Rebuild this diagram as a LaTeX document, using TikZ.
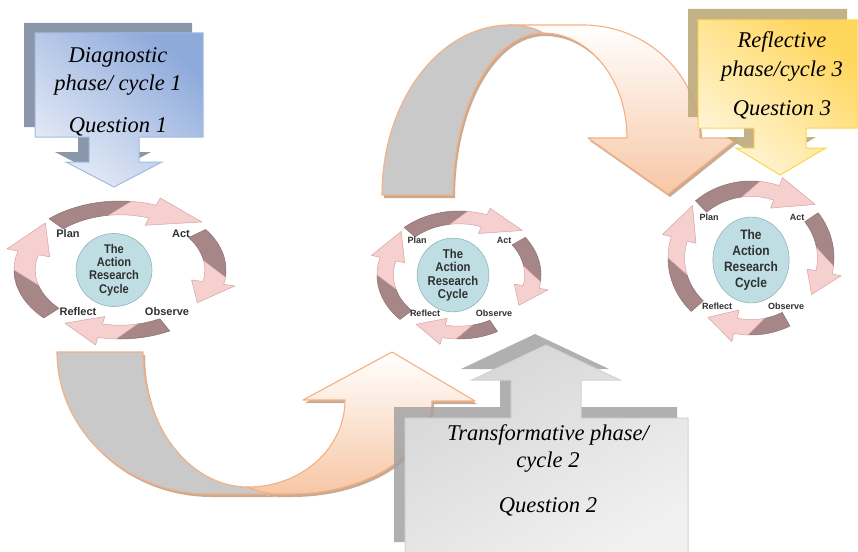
\documentclass[tikz,border=0pt]{standalone}
\usepackage{fontspec}
\setmainfont{Liberation Serif}
\newfontfamily\cycfont{Liberation Sans}
\newfontfamily\cycnarrow[FakeStretch=0.88]{Liberation Sans}
\usetikzlibrary{shapes.geometric}

% cycle diagram colours
\definecolor{ardark}{HTML}{A68686}
\definecolor{ardarkline}{HTML}{8E7070}
\definecolor{arpink}{HTML}{F6CFCF}
\definecolor{arpinkline}{HTML}{D6A4A4}
\definecolor{cycfill}{HTML}{BEDEE3}
\definecolor{cycline}{HTML}{93B4B9}
\definecolor{cyctext}{HTML}{303030}
% u-turn arrows
\definecolor{uturnline}{HTML}{F4B183}
\definecolor{uturnback}{HTML}{C9C9C9}
\definecolor{uturnpeach}{HTML}{F7C7A6}
\definecolor{uturnshadow}{HTML}{C9AB94}
% callouts
\definecolor{bluelight}{HTML}{E6ECF7}
\definecolor{bluemid}{HTML}{C9D6EE}
\definecolor{bluedark}{HTML}{8EAADB}
\definecolor{blueline}{HTML}{A4B9E2}
\definecolor{blueshadow}{HTML}{8A96AA}
\definecolor{yellight}{HTML}{FFF6D9}
\definecolor{yelmid}{HTML}{FFEBA8}
\definecolor{yeldark}{HTML}{FFD65C}
\definecolor{yelline}{HTML}{FFD44F}
\definecolor{yelshadow}{HTML}{BDAA7A}
\definecolor{greylight}{HTML}{F0F0F0}
\definecolor{greydark}{HTML}{D6D6D6}
\definecolor{greyline}{HTML}{D2D2D2}
\definecolor{greyshadow}{HTML}{A3A3A3}

\tikzset{
  calltext/.style={font=\rmfamily\itshape\fontsize{22.5}{27}\selectfont,
    anchor=base, inner sep=0pt},
  cyccentre/.style={ellipse, draw=cycline, fill=cycfill, line width=0.6pt,
    inner sep=0pt, align=center, text=cyctext},
  cyclabel/.style={font=\cycfont\bfseries\fontsize{#1}{#1}\selectfont,
    text=cyctext, inner sep=0pt},
  uturnedge/.style={draw=uturnline, line width=1.1pt, line join=round},
}

% one twisted arrow of the ring: start, seam (inner), seam (outer),
% head base, tip angle, tip radius
\newcommand\ringarrow[6]{%
  \filldraw[fill=ardark, draw=ardarkline, line width=0.5pt, line join=round]
    plot[domain=#1:#3, samples=14] (\x:1) --
    plot[domain=#2:#1, samples=14] (\x:0.8) -- cycle;
  \filldraw[fill=arpink, draw=arpinkline, line width=0.5pt, line join=round]
    (#2:0.8) -- plot[domain=#3:#4, samples=10] (\x:1) --
    (#4:1.11) -- (#5:#6) -- (#4:0.69) --
    plot[domain=#4:#2, samples=12] (\x:0.8) -- cycle;
}
% the four arrows round a cycle: centre x, centre y, x radius, y radius
\newcommand\cyclering[4]{%
  \begin{scope}[shift={(#1,#2)}, x=#3pt, y=#4pt]
    \ringarrow{132}{98}{84}{70}{42}{1.04}
    \ringarrow{36}{10}{-6}{-12}{-33}{0.87}
    \ringarrow{-62}{-78}{-92}{-102}{-124}{0.93}
    \ringarrow{224}{196}{180}{164}{136}{0.98}
  \end{scope}}

% callout outlines
\def\bluepath{(35,33) -- (203,33) -- (203,137) -- (139,137) -- (139,162)
  -- (162,162) -- (114,187) -- (66,162) -- (89,162) -- (89,137)
  -- (35,137) -- cycle}
\def\yelpath{(698,20) -- (857,20) -- (857,128) -- (806,128) -- (806,148)
  -- (826,148) -- (780,175) -- (736,148) -- (754,148) -- (754,128)
  -- (698,128) -- cycle}
\def\greypath{(405,418) -- (511,418) -- (511,380) -- (472,380)
  -- (546,345) -- (620,380) -- (581,380) -- (581,418) -- (688,418)
  -- (688,553) -- (405,553) -- cycle}
% u-turn arrow pieces
\def\topback{(382,195) arc[start angle=180, end angle=90, x radius=128pt, y radius=170pt]
  .. controls (524,25) and (535,28) .. (543,33)
  arc[start angle=90, end angle=180, x radius=90pt, y radius=162pt] -- cycle}
\def\topfront{(510,25) -- (583,25)
  arc[start angle=90, end angle=0, x radius=117pt, y radius=113pt]
  -- (738,138) -- (668,194) -- (588,138) -- (627,138)
  arc[start angle=0, end angle=90, x radius=84pt, y radius=105pt]
  .. controls (535,28) and (524,25) .. (510,25) -- cycle}
\def\botback{(57,352) -- (143,352)
  arc[start angle=180, end angle=270, x radius=105pt, y radius=135pt]
  .. controls (258,491) and (268,494) .. (282,494) -- (210,494)
  arc[start angle=270, end angle=180, x radius=153pt, y radius=142pt] -- cycle}
\def\botfront{(248,487)
  arc[start angle=270, end angle=360, x radius=97pt, y radius=87pt]
  -- (303,400) -- (392,352) -- (475,401) -- (432,401)
  arc[start angle=0, end angle=-90, x radius=142pt, y radius=93pt]
  -- (282,494) .. controls (268,494) and (258,491) .. (248,487) -- cycle}

\begin{document}
\begin{tikzpicture}[x=1pt, y=-1pt]
\useasboundingbox (0,0) rectangle (858,551);
\fill[white] (0,0) rectangle (858,551);

% ---- the three action research cycles ----
\cyclering{120}{270}{106}{69}
\cyclering{459}{275}{82}{64}
\cyclering{751}{258}{83}{77}

\node[cyccentre, minimum width=76pt, minimum height=60pt,
  font=\cycnarrow\bfseries\fontsize{12.6}{13.3}\selectfont]
  (centre1) at (114,270) {The\\Action\\Research\\Cycle};
\node[cyclabel=11] (plan1) at (68,234) {Plan};
\node[cyclabel=11] (act1) at (181,234) {Act};
\node[cyclabel=11] (reflect1) at (78,312) {Reflect};
\node[cyclabel=11] (observe1) at (167,312) {Observe};

\node[cyccentre, minimum width=62pt, minimum height=60pt,
  font=\cycnarrow\bfseries\fontsize{12.8}{13.4}\selectfont]
  (centre2) at (453,275) {The\\Action\\Research\\Cycle};
\node[cyclabel=9] (plan2) at (417,240) {Plan};
\node[cyclabel=9] (act2) at (504,240) {Act};
\node[cyclabel=9] (reflect2) at (425,313) {Reflect};
\node[cyclabel=9] (observe2) at (494,313) {Observe};

\node[cyccentre, minimum width=72pt, minimum height=75pt,
  font=\cycnarrow\bfseries\fontsize{13.6}{16}\selectfont]
  (centre3) at (751,260) {The\\Action\\Research\\Cycle};
\node[cyclabel=9] (plan3) at (709,217) {Plan};
\node[cyclabel=9] (act3) at (797,217) {Act};
\node[cyclabel=9] (reflect3) at (717,306) {Reflect};
\node[cyclabel=9] (observe3) at (786,306) {Observe};

% ---- u-turn arrows linking the cycles ----
\fill[uturnshadow, shift={(2,3)}] \topback;
\fill[uturnshadow, shift={(2,3)}] \topfront;
\fill[uturnshadow, shift={(2,3)}] \botback;
\fill[uturnshadow, shift={(2,3)}] \botfront;
\filldraw[fill=uturnback, uturnedge] \topback;
\shadedraw[top color=white, bottom color=uturnpeach, uturnedge] \topfront;
\filldraw[fill=uturnback, uturnedge] \botback;
\shadedraw[top color=white, bottom color=uturnpeach, uturnedge] \botfront;

% ---- phase callouts ----
\fill[blueshadow, shift={(-11,-10)}] \bluepath;
\shadedraw[draw=blueline, line width=1pt, top color=bluedark, middle color=bluemid,
  bottom color=bluelight, shading angle=-40] \bluepath;
\node[calltext] (diag1) at (118,63) {Diagnostic};
\node[calltext] (diag2) at (118,90) {phase/ cycle 1};
\node[calltext] (diag3) at (118,132) {Question 1};

\fill[yelshadow, opacity=0.9, shift={(-10,-11)}] \yelpath;
\shadedraw[draw=yelline, line width=1pt, top color=yeldark, middle color=yelmid,
  bottom color=yellight, shading angle=-40] \yelpath;
\node[calltext] (refl1) at (782,48) {Reflective};
\node[calltext] (refl2) at (782,76) {phase/cycle 3};
\node[calltext] (refl3) at (782,115) {Question 3};

\fill[greyshadow, opacity=0.85, shift={(-11,-11)}] \greypath;
\shadedraw[draw=greyline, line width=1pt, top color=greydark, bottom color=greylight,
  shading angle=30] \greypath;
\node[calltext] (trans1) at (548,440) {Transformative phase/};
\node[calltext] (trans2) at (548,467) {cycle 2};
\node[calltext] (trans3) at (548,512) {Question 2};
\end{tikzpicture}
\end{document}
